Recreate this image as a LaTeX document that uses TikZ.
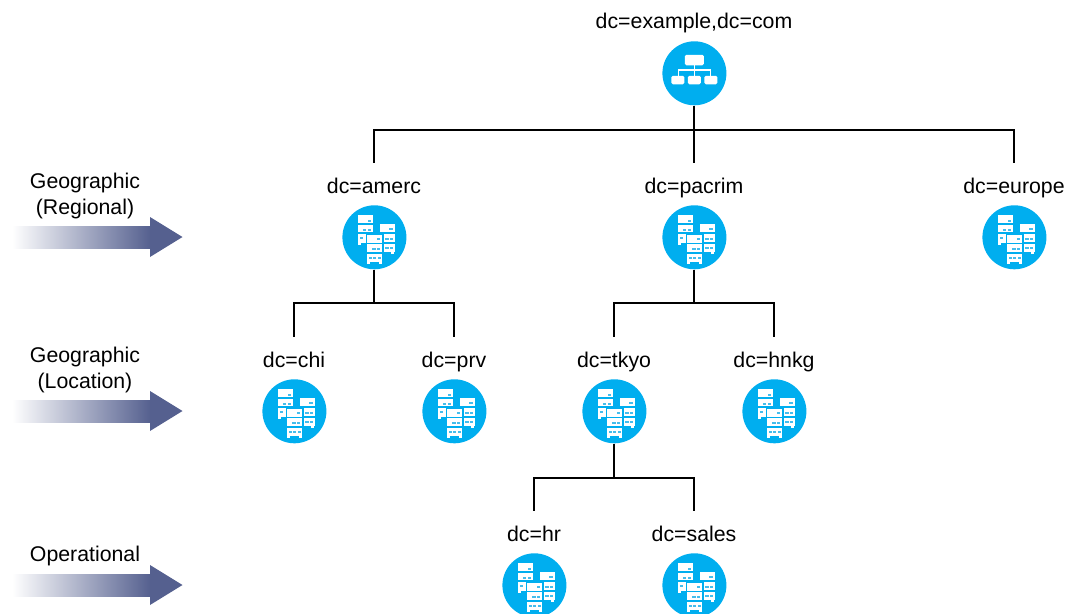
\documentclass[tikz,border=0pt]{standalone}
\usepackage{fontspec}
\setmainfont{Liberation Sans}
\definecolor{disc}{HTML}{00AEEF}
\definecolor{slot}{HTML}{45BDEC}
\definecolor{arrowblue}{HTML}{55608F}
\tikzset{
  x=1pt,y=-1pt,
  disc/.style={circle,fill=disc,draw=none,minimum size=64pt,inner sep=0pt},
  lab/.style={anchor=base,font=\fontsize{21.3}{25}\selectfont,text height=15.5pt,text depth=4.5pt,inner xsep=0pt,inner ysep=14.5pt},
  side/.style={align=center,font=\fontsize{21.3}{26}\selectfont,inner sep=0pt},
  wire/.style={draw=black,line width=2pt},
  pane/.style={fill=white,draw=none},
  slotm/.style={fill=slot,draw=none},
  org/.pic={
    \fill[pane,rounded corners=1.5pt] (-9.5,-18.5) rectangle (9.5,-8);
    \fill[pane,rounded corners=1.5pt] (-23,2.5) rectangle (-10,11);
    \fill[pane,rounded corners=1.5pt] (-6.5,2.5) rectangle (6.5,11);
    \fill[pane,rounded corners=1.5pt] (10,2.5) rectangle (23,11);
    \draw[white,line width=1.8pt] (0,-8) -- (0,3) (-16,3) -- (-16,-3) -- (16,-3) -- (16,3);
  },
  rack/.pic={
    % left rack
    \fill[pane] (-16,-22) rectangle (-1.3,-14.3);
    \fill[pane] (-16,-12.3) rectangle (-1.3,-5);
    \fill[pane] (-16,-3.3) rectangle (-8.7,5.3);
    \fill[pane] (-16,5.3) rectangle (-13,7.7);
    \fill[slotm] (-6,-17.5) rectangle (-3,-15.8);
    \fill[slotm] (-11,-8.5) rectangle (-8,-6.6);
    \fill[slotm] (-6,-8.5) rectangle (-3,-6.6);
    \fill[slotm] (-14,0) rectangle (-11,2);
    % right rack
    \fill[pane] (5.7,-13) rectangle (20.3,-5);
    \fill[pane] (10,-3.3) rectangle (20.3,4.7);
    \fill[pane] (10,6.3) rectangle (20.3,14.3);
    \fill[pane] (17,14.3) rectangle (20,16.7);
    \fill[slotm] (15,-9) rectangle (18.5,-7);
    \fill[slotm] (11,0.5) rectangle (14.5,2.5);
    \fill[slotm] (15.5,0.5) rectangle (19,2.5);
    \fill[slotm] (11,10) rectangle (14.5,12);
    \fill[slotm] (15.5,10) rectangle (19,12);
    % centre rack
    \fill[pane] (-7,-2.7) rectangle (7.7,5.3);
    \fill[pane] (-7,6.7) rectangle (7.7,14.7);
    \fill[pane] (-7,16.3) rectangle (7.7,24.3);
    \fill[pane] (-7,24.3) rectangle (-4,26.7);
    \fill[pane] (4.7,24.3) rectangle (7.7,26.7);
    \fill[slotm] (2.5,1) rectangle (6,3);
    \fill[slotm] (-2,10.5) rectangle (1.5,12.5);
    \fill[slotm] (2.5,10.5) rectangle (6,12.5);
    \fill[slotm] (-5.5,20) rectangle (-2.5,22);
    \fill[slotm] (-1,20) rectangle (2,22);
    \fill[slotm] (3.5,20) rectangle (6.5,22);
  }
}
\begin{document}
\begin{tikzpicture}
\useasboundingbox (0,0) rectangle (1068,613);
\clip (0,0) rectangle (1068,613);
% labels
\node[lab] (lroot) at (694,28) {dc=example,dc=com};
\node[lab] (lamerc) at (374,193) {dc=amerc};
\node[lab] (lpacrim) at (694,193) {dc=pacrim};
\node[lab] (leurope) at (1014,193) {dc=europe};
\node[lab] (lchi) at (294,367) {dc=chi};
\node[lab] (lprv) at (454,367) {dc=prv};
\node[lab] (ltkyo) at (614,367) {dc=tkyo};
\node[lab] (lhnkg) at (774,367) {dc=hnkg};
\node[lab] (lhr) at (534,541) {dc=hr};
\node[lab] (lsales) at (694,541) {dc=sales};
% discs
\node[disc] (root) at (694.4,73.3) {};
\node[disc] (amerc) at (374.4,237.3) {};
\node[disc] (pacrim) at (694.4,237.3) {};
\node[disc] (europe) at (1014.4,237.3) {};
\node[disc] (chi) at (294.4,411.3) {};
\node[disc] (prv) at (454.4,411.3) {};
\node[disc] (tkyo) at (614.4,411.3) {};
\node[disc] (hnkg) at (774.4,411.3) {};
\node[disc] (hr) at (534.4,585.3) {};
\node[disc] (sales) at (694.4,585.3) {};
% icons
\pic at (root) {org};
\foreach \n in {amerc,pacrim,europe,chi,prv,tkyo,hnkg,hr,sales} \pic at (\n) {rack};
% connectors
\draw[wire] (root.south) -- (root.south |- lpacrim.north);
\draw[wire] (root.south) ++(0,24.4) -| (lamerc.north);
\draw[wire] (root.south) ++(0,24.4) -| (leurope.north);
\draw[wire] (amerc.south) -- ++(0,33.4) -| (lchi.north);
\draw[wire] (amerc.south) ++(0,33.4) -| (lprv.north);
\draw[wire] (pacrim.south) -- ++(0,33.4) -| (ltkyo.north);
\draw[wire] (pacrim.south) ++(0,33.4) -| (lhnkg.north);
\draw[wire] (tkyo.south) -- ++(0,34.4) -| (lhr.north);
\draw[wire] (tkyo.south) ++(0,34.4) -| (lsales.north);
% side arrows
\foreach \y in {237,411,585}{
  \shade[left color=white,right color=arrowblue,draw=none] (12,\y-11) rectangle (150.5,\y+11);
  \fill[arrowblue] (150,\y-20) -- (182.5,\y) -- (150,\y+20) -- cycle;
}
\node[side] (s1) at (85,196) {Geographic\\(Regional)};
\node[side] (s2) at (85,370) {Geographic\\(Location)};
\node[side] (s3) at (85,556) {Operational};
\end{tikzpicture}
\end{document}
